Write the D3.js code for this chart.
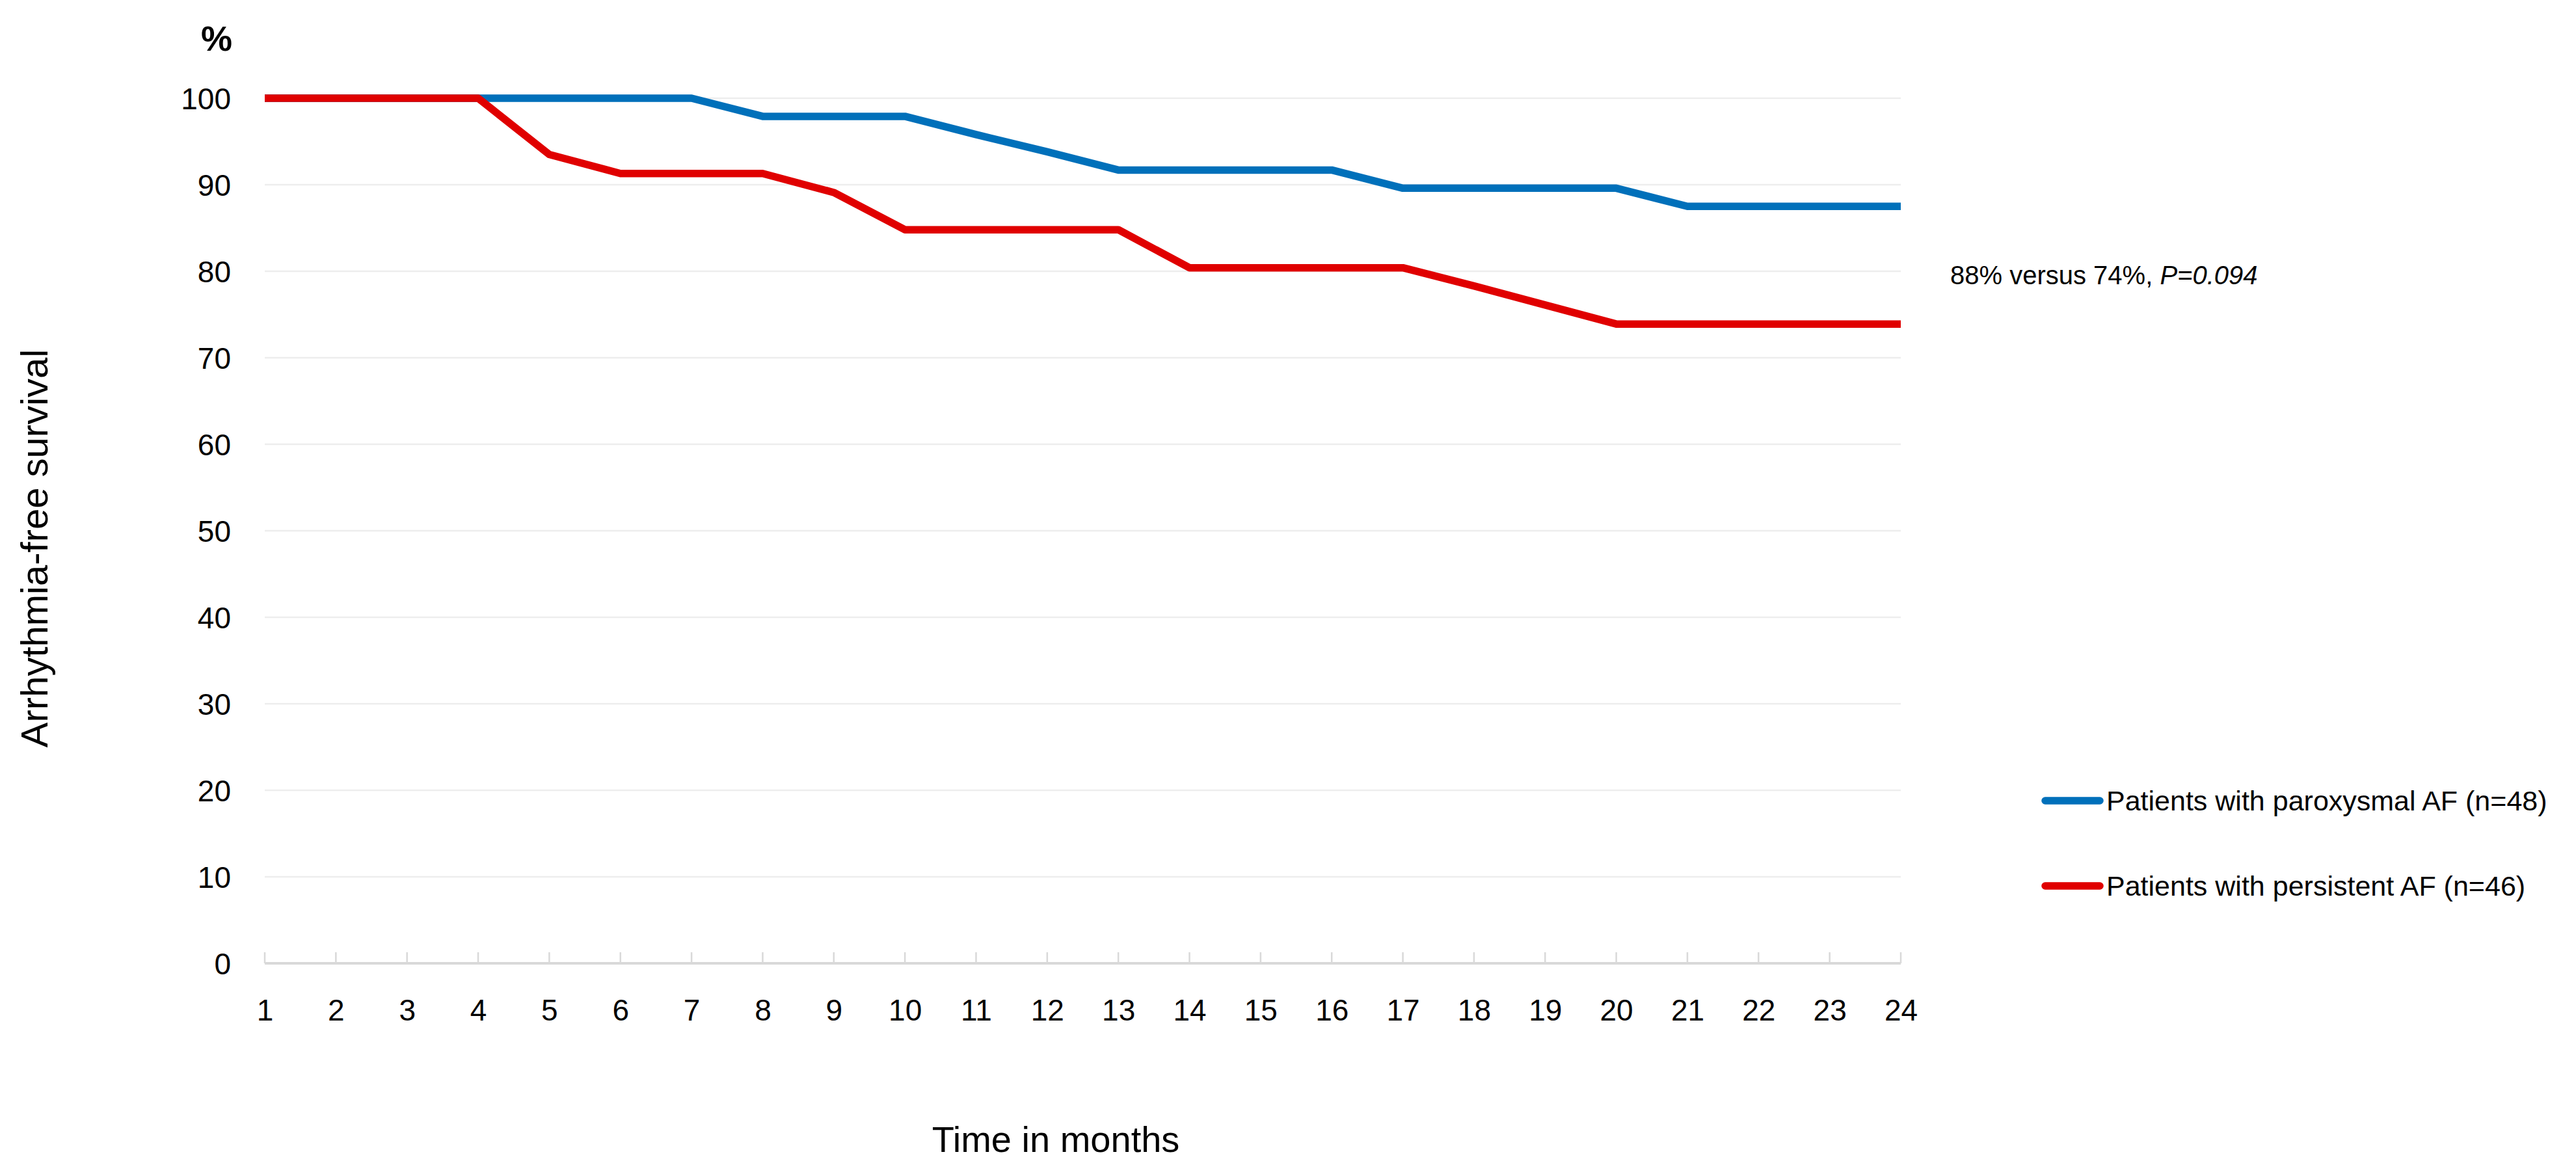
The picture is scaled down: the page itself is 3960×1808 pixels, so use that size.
<!DOCTYPE html>
<html>
<head>
<meta charset="utf-8">
<script src="https://cdn.jsdelivr.net/npm/d3@7"></script>
<style>
  html, body { margin: 0; padding: 0; background: #fff; }
  svg { display: block; }
  text { font-family: "Liberation Sans", Arial, sans-serif; fill: #000; }
</style>
</head>
<body>
<svg id="chart" width="3960" height="1808"></svg>
<script>
// ---- data ----
const months = [1,2,3,4,5,6,7,8,9,10,11,12,13,14,15,16,17,18,19,20,21,22,23,24];
const paroxysmal = [100,100,100,100,100,100,100,97.9,97.9,97.9,95.8,93.8,91.7,91.7,91.7,91.7,89.6,89.6,89.6,89.6,87.5,87.5,87.5,87.5];
const persistent = [100,100,100,100,93.5,91.3,91.3,91.3,89.1,84.8,84.8,84.8,84.8,80.4,80.4,80.4,80.4,78.3,76.1,73.9,73.9,73.9,73.9,73.9];
const yTicks = [0,10,20,30,40,50,60,70,80,90,100];
const seriesNames = ["Patients with paroxysmal AF (n=48)", "Patients with persistent AF (n=46)"];
const seriesColors = ["#0070BA", "#E00000"];
const xTitle = "Time in months";
const yTitle = "Arrhythmia-free survival";
const yUnit = "%";

// ---- layout ----
const svg = d3.select("#chart");
const x = d3.scaleLinear().domain([1, 24]).range([407, 2922]);
const y = d3.scaleLinear().domain([0, 100]).range([1481, 151]);

// gridlines
svg.append("g").selectAll("line")
  .data(yTicks.filter(d => d > 0))
  .join("line")
  .attr("x1", x(1)).attr("x2", x(24))
  .attr("y1", d => y(d)).attr("y2", d => y(d))
  .attr("stroke", "#ededed").attr("stroke-width", 2.5);

// y axis labels
const yAxis = d3.axisLeft(y).tickValues(yTicks).tickSize(0).tickPadding(0);
const gy = svg.append("g").attr("transform", "translate(355,0)").call(yAxis);
gy.select(".domain").remove();
gy.selectAll("text").attr("font-size", 46).attr("font-family", "Liberation Sans, Arial, sans-serif").attr("fill", "#000").attr("dy", "0.36em");

// x axis
const xAxis = d3.axisBottom(x).tickValues(months).tickSize(0).tickPadding(0).tickFormat(d3.format("d"));
const gx = svg.append("g").attr("transform", `translate(0,${y(0)})`).call(xAxis);
gx.select(".domain").remove();
gx.selectAll("text").attr("font-size", 46).attr("font-family", "Liberation Sans, Arial, sans-serif").attr("fill", "#000").attr("y", 88).attr("dy", 0);
// axis line and upward ticks
svg.append("line").attr("x1", x(1)).attr("x2", x(24)).attr("y1", y(0)).attr("y2", y(0))
  .attr("stroke", "#d9d9d9").attr("stroke-width", 4);
svg.append("g").selectAll("line").data(months).join("line")
  .attr("x1", d => x(d)).attr("x2", d => x(d))
  .attr("y1", y(0)).attr("y2", y(0) - 17)
  .attr("stroke", "#d9d9d9").attr("stroke-width", 2.5);

// lines
const line = d3.line().x((d, i) => x(months[i])).y(d => y(d));
[paroxysmal, persistent].forEach((s, i) => {
  svg.append("path").datum(s)
    .attr("d", line)
    .attr("fill", "none")
    .attr("stroke", seriesColors[i])
    .attr("stroke-width", 11.5)
    .attr("stroke-linejoin", "round")
    .attr("stroke-linecap", "butt");
});

// unit label
svg.append("text").attr("x", 357).attr("y", 78).attr("text-anchor", "end")
  .attr("font-size", 54).attr("font-weight", "bold").text(yUnit);

// axis titles
svg.append("text").attr("transform", "translate(73,843) rotate(-90)")
  .attr("text-anchor", "middle").attr("font-size", 58).text(yTitle);
svg.append("text").attr("x", 1623).attr("y", 1771).attr("text-anchor", "middle")
  .attr("font-size", 56).text(xTitle);

// annotation
const ann = svg.append("text").attr("x", 2998).attr("y", 437).attr("font-size", 40);
ann.append("tspan").text("88% versus 74%, ");
ann.append("tspan").attr("font-style", "italic").text("P=0.094");

// legend
const legY = [1231, 1362];
seriesNames.forEach((name, i) => {
  svg.append("line").attr("x1", 3144).attr("x2", 3228)
    .attr("y1", legY[i]).attr("y2", legY[i])
    .attr("stroke", seriesColors[i]).attr("stroke-width", 11.5).attr("stroke-linecap", "round");
  svg.append("text").attr("x", 3238).attr("y", legY[i] + 15).attr("font-size", 43).text(name);
});
</script>
</body>
</html>
